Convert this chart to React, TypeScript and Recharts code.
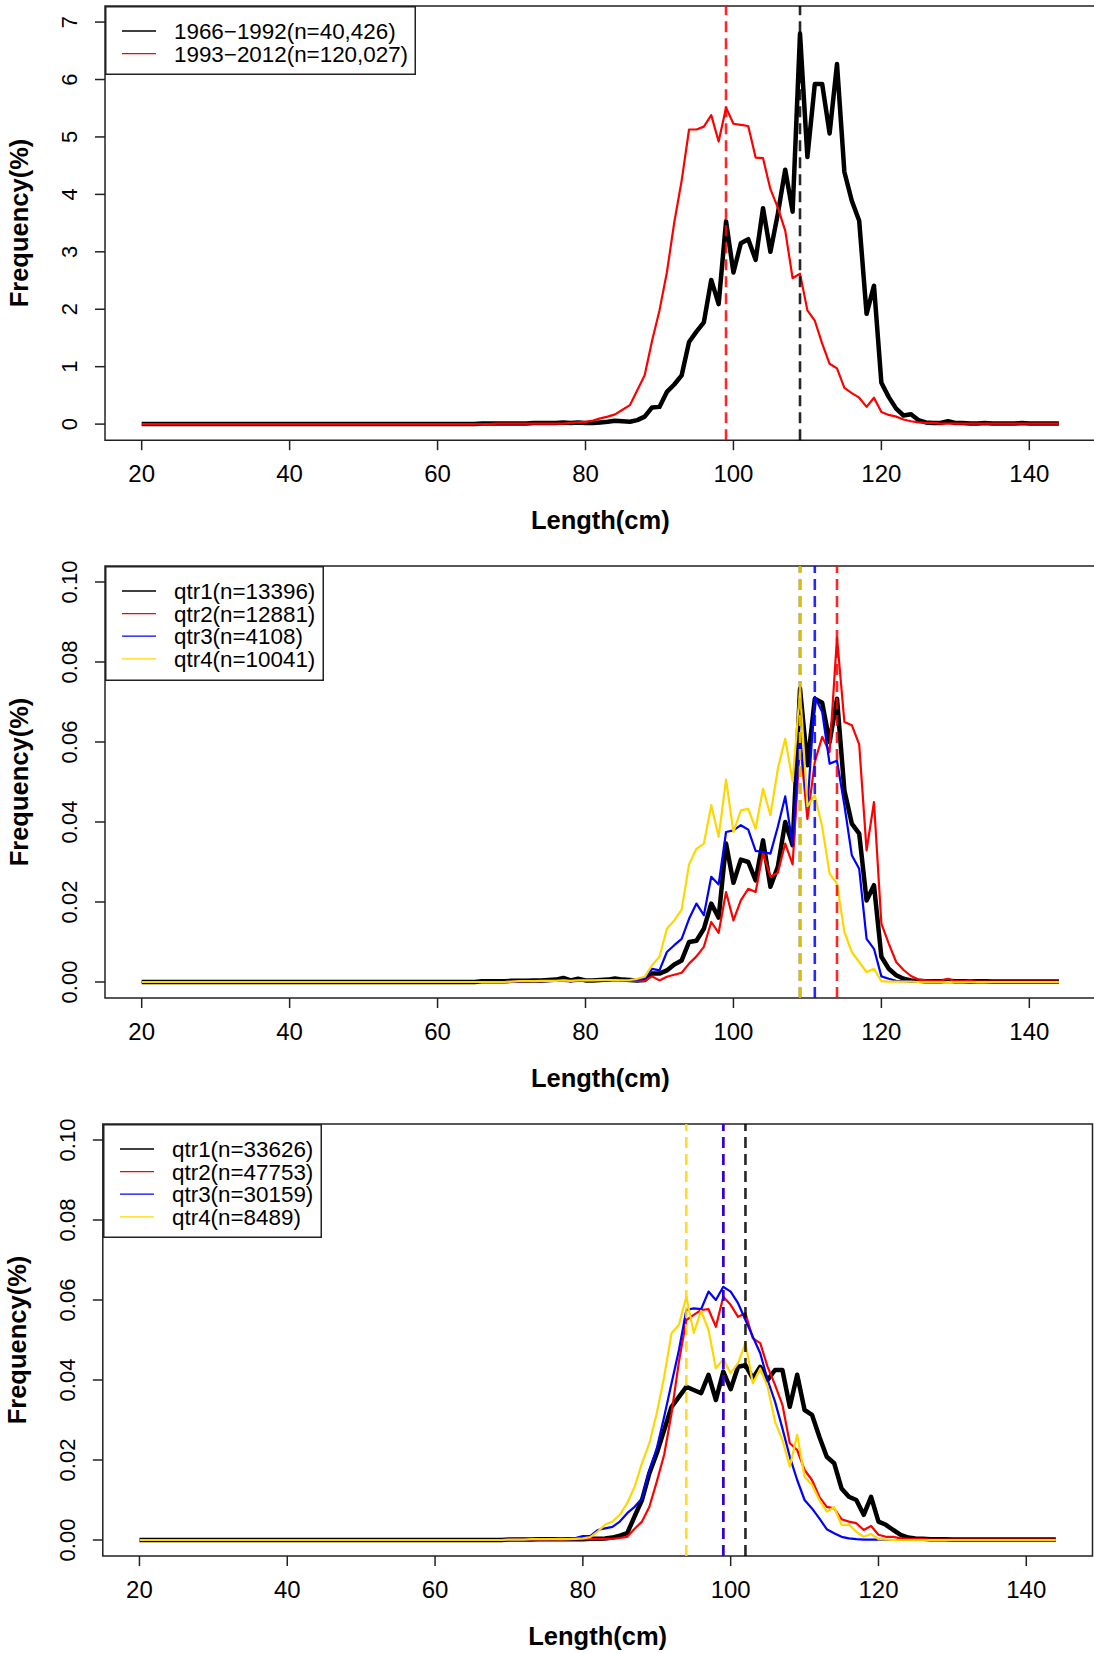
import {
  LineChart,
  Line,
  XAxis,
  YAxis,
  ReferenceLine,
  ReferenceArea,
  Legend,
} from "recharts";

// length bins (cm)
const lengths = [
  20, 21, 22, 23, 24, 25, 26, 27, 28, 29,
  30, 31, 32, 33, 34, 35, 36, 37, 38, 39,
  40, 41, 42, 43, 44, 45, 46, 47, 48, 49,
  50, 51, 52, 53, 54, 55, 56, 57, 58, 59,
  60, 61, 62, 63, 64, 65, 66, 67, 68, 69,
  70, 71, 72, 73, 74, 75, 76, 77, 78, 79,
  80, 81, 82, 83, 84, 85, 86, 87, 88, 89,
  90, 91, 92, 93, 94, 95, 96, 97, 98, 99,
  100, 101, 102, 103, 104, 105, 106, 107, 108, 109,
  110, 111, 112, 113, 114, 115, 116, 117, 118, 119,
  120, 121, 122, 123, 124, 125, 126, 127, 128, 129,
  130, 131, 132, 133, 134, 135, 136, 137, 138, 139,
  140, 141, 142, 143, 144,
];

const xTicks = [20, 40, 60, 80, 100, 120, 140];

// ---- panel 1: two periods ----
const periodNames = ["1966−1992(n=40,426)", "1993−2012(n=120,027)"];
const period1 = [
  0, 0, 0, 0, 0, 0, 0, 0, 0, 0,
  0, 0, 0, 0, 0, 0, 0, 0, 0, 0,
  0, 0, 0, 0, 0, 0, 0, 0, 0, 0,
  0, 0, 0, 0, 0, 0, 0, 0, 0, 0,
  0, 0, 0, 0, 0, 0, 0.01, 0.01, 0.01, 0.01,
  0.01, 0.01, 0.01, 0.02, 0.02, 0.02, 0.02, 0.03, 0.02, 0.03,
  0.02, 0.02, 0.03, 0.04, 0.06, 0.05, 0.04, 0.07, 0.13, 0.29,
  0.3, 0.56, 0.69, 0.85, 1.43, 1.61, 1.77, 2.51, 2.09, 3.53,
  2.64, 3.15, 3.22, 2.86, 3.76, 3.0, 3.66, 4.43, 3.7, 6.8,
  4.65, 5.92, 5.92, 5.06, 6.27, 4.39, 3.89, 3.54, 1.92, 2.41,
  0.72, 0.47, 0.27, 0.15, 0.17, 0.07, 0.03, 0.02, 0.02, 0.05,
  0.02, 0.02, 0.01, 0.01, 0.02, 0.01, 0.01, 0.01, 0.01, 0.02,
  0.01, 0.01, 0.01, 0.01, 0.01,
];
const period2 = [
  0, 0, 0, 0, 0, 0, 0, 0, 0, 0,
  0, 0, 0, 0, 0, 0, 0, 0, 0, 0,
  0, 0, 0, 0, 0, 0, 0, 0, 0, 0,
  0, 0, 0, 0, 0, 0, 0, 0, 0, 0,
  0, 0, 0, 0, 0, 0, 0, 0, 0.01, 0.01,
  0.01, 0.01, 0.01, 0.01, 0.01, 0.01, 0.01, 0.01, 0.02, 0.03,
  0.04, 0.06, 0.1, 0.13, 0.17, 0.25, 0.33, 0.59, 0.85, 1.45,
  1.98, 2.64, 3.51, 4.24, 5.13, 5.13, 5.18, 5.38, 4.92, 5.51,
  5.23, 5.21, 5.19, 4.64, 4.63, 4.09, 3.77, 3.37, 2.54, 2.62,
  1.98, 1.8, 1.4, 1.05, 0.97, 0.63, 0.54, 0.46, 0.3, 0.46,
  0.21, 0.16, 0.13, 0.08, 0.05, 0.03, 0.02, 0.02, 0.01, 0.01,
  0.01, 0.01, 0.01, 0.01, 0.01, 0.01, 0.01, 0.01, 0.01, 0.01,
  0.01, 0.01, 0.01, 0.01, 0.01,
];
const periodModes = [109, 99];
const periodTicks = [0, 1, 2, 3, 4, 5, 6, 7];

// ---- panel 2: quarters, period 1 ----
const q1Names = ["qtr1(n=13396)", "qtr2(n=12881)", "qtr3(n=4108)", "qtr4(n=10041)"];
const early1 = [
  0, 0, 0, 0, 0, 0, 0, 0, 0, 0,
  0, 0, 0, 0, 0, 0, 0, 0, 0, 0,
  0, 0, 0, 0, 0, 0, 0, 0, 0, 0,
  0, 0, 0, 0, 0, 0, 0, 0, 0, 0,
  0, 0, 0, 0, 0, 0, 0.0002, 0.0002, 0.0002, 0.0002,
  0.0003, 0.0003, 0.0003, 0.0004, 0.0004, 0.0005, 0.0006, 0.001, 0.0004, 0.0008,
  0.0004, 0.0004, 0.0005, 0.0006, 0.0009, 0.0006, 0.0005, 0.0004, 0.0005, 0.0021,
  0.0021, 0.0029, 0.0044, 0.0054, 0.01, 0.0103, 0.0133, 0.0196, 0.0161, 0.0346,
  0.0248, 0.0306, 0.03, 0.0254, 0.0354, 0.0238, 0.0288, 0.04, 0.0342, 0.0733,
  0.0542, 0.0708, 0.0698, 0.06, 0.0708, 0.0479, 0.0396, 0.0371, 0.0204, 0.0242,
  0.0063, 0.0033, 0.0017, 0.0008, 0.0004, 0.0003, 0.0002, 0.0002, 0.0002, 0.0003,
  0.0002, 0.0002, 0.0001, 0.0002, 0.0002, 0.0001, 0.0001, 0.0001, 0.0001, 0.0001,
  0.0001, 0.0001, 0.0001, 0.0001, 0.0001,
];
const early2 = [
  0, 0, 0, 0, 0, 0, 0, 0, 0, 0,
  0, 0, 0, 0, 0, 0, 0, 0, 0, 0,
  0, 0, 0, 0, 0, 0, 0, 0, 0, 0,
  0, 0, 0, 0, 0, 0, 0, 0, 0, 0,
  0, 0, 0, 0, 0, 0, 0, 0, 0, 0,
  0.0001, 0.0001, 0.0002, 0.0002, 0.0002, 0.0003, 0.0003, 0.0003, 0.0002, 0.0003,
  0.0003, 0.0003, 0.0003, 0.0004, 0.0004, 0.0004, 0.0003, 0.0003, 0.0003, 0.0014,
  0.0004, 0.0013, 0.0018, 0.0023, 0.0046, 0.0064, 0.0088, 0.015, 0.0123, 0.0225,
  0.0154, 0.0204, 0.0233, 0.0225, 0.0323, 0.0263, 0.0273, 0.0346, 0.0294, 0.06,
  0.0408, 0.055, 0.0613, 0.0575, 0.0861, 0.065, 0.0642, 0.0594, 0.0329, 0.045,
  0.0146, 0.0096, 0.005, 0.003, 0.0015, 0.0006, 0.0004, 0.0003, 0.0003, 0.0008,
  0.0002, 0.0002, 0.0002, 0.0001, 0.0001, 0.0001, 0.0001, 0.0001, 0.0001, 0.0001,
  0.0001, 0.0001, 0.0001, 0.0001, 0.0001,
];
const early3 = [
  0, 0, 0, 0, 0, 0, 0, 0, 0, 0,
  0, 0, 0, 0, 0, 0, 0, 0, 0, 0,
  0, 0, 0, 0, 0, 0, 0, 0, 0, 0,
  0, 0, 0, 0, 0, 0, 0, 0, 0, 0,
  0, 0, 0, 0, 0, 0, 0, 0, 0, 0,
  0.0001, 0.0001, 0.0002, 0.0002, 0.0002, 0.0002, 0.0003, 0.0003, 0.0002, 0.0003,
  0.0003, 0.0003, 0.0004, 0.0004, 0.0005, 0.0004, 0.0005, 0.0006, 0.0008, 0.0033,
  0.0029, 0.0075, 0.0092, 0.0108, 0.0158, 0.0196, 0.0167, 0.0263, 0.0244, 0.0375,
  0.0379, 0.0392, 0.0381, 0.0328, 0.0325, 0.0321, 0.0388, 0.0464, 0.0342, 0.0617,
  0.0438, 0.0713, 0.0675, 0.0546, 0.0553, 0.0442, 0.0317, 0.0283, 0.0108, 0.0083,
  0.0014, 0.0008, 0.0003, 0.0002, 0.0001, 0, 0, 0, 0, 0,
  0, 0, 0, 0, 0, 0, 0, 0, 0, 0,
  0, 0, 0, 0, 0,
];
const early4 = [
  0, 0, 0, 0, 0, 0, 0, 0, 0, 0,
  0, 0, 0, 0, 0, 0, 0, 0, 0, 0,
  0, 0, 0, 0, 0, 0, 0, 0, 0, 0,
  0, 0, 0, 0, 0, 0, 0, 0, 0, 0,
  0, 0, 0, 0, 0, 0, 0, 0, 0, 0,
  0.0001, 0.0002, 0.0002, 0.0002, 0.0003, 0.0003, 0.0003, 0.0004, 0.0003, 0.0004,
  0.0004, 0.0004, 0.0005, 0.0005, 0.0005, 0.0004, 0.0005, 0.0008, 0.0013, 0.0042,
  0.0063, 0.0133, 0.0154, 0.0181, 0.0294, 0.0333, 0.0346, 0.0442, 0.0363, 0.0506,
  0.0375, 0.0429, 0.0433, 0.0383, 0.0483, 0.0417, 0.0533, 0.0608, 0.0502, 0.073,
  0.0439, 0.0467, 0.0388, 0.0271, 0.0246, 0.0125, 0.0075, 0.005, 0.0025, 0.0033,
  0.0002, 0.0001, 0.0001, 0.0001, 0.0001, 0, 0, 0, 0, 0,
  0, 0, 0, 0, 0, 0, 0, 0, 0, 0,
  0, 0, 0, 0, 0,
];
const earlyModes = [109, 114, 111, 109];

// ---- panel 3: quarters, period 2 ----
const q2Names = ["qtr1(n=33626)", "qtr2(n=47753)", "qtr3(n=30159)", "qtr4(n=8489)"];
const late1 = [
  0, 0, 0, 0, 0, 0, 0, 0, 0, 0,
  0, 0, 0, 0, 0, 0, 0, 0, 0, 0,
  0, 0, 0, 0, 0, 0, 0, 0, 0, 0,
  0, 0, 0, 0, 0, 0, 0, 0, 0, 0,
  0, 0, 0, 0, 0, 0, 0, 0, 0, 0,
  0.0001, 0.0001, 0.0001, 0.0001, 0.0002, 0.0002, 0.0002, 0.0002, 0.0002, 0.0002,
  0.0002, 0.0003, 0.0003, 0.0004, 0.0006, 0.0011, 0.0017, 0.0059, 0.01, 0.0167,
  0.0217, 0.0275, 0.0333, 0.0358, 0.0383, 0.0375, 0.0367, 0.0413, 0.035, 0.0421,
  0.0377, 0.0433, 0.0437, 0.0404, 0.0433, 0.04, 0.0425, 0.0425, 0.0333, 0.0413,
  0.0325, 0.0313, 0.0258, 0.0208, 0.0192, 0.0129, 0.0108, 0.01, 0.0063, 0.0108,
  0.0046, 0.0038, 0.0025, 0.0013, 0.0006, 0.0004, 0.0003, 0.0002, 0.0002, 0.0002,
  0.0001, 0.0001, 0.0001, 0.0001, 0.0001, 0.0001, 0.0001, 0.0001, 0.0001, 0.0001,
  0.0001, 0.0001, 0.0001, 0.0001, 0.0001,
];
const late2 = [
  0, 0, 0, 0, 0, 0, 0, 0, 0, 0,
  0, 0, 0, 0, 0, 0, 0, 0, 0, 0,
  0, 0, 0, 0, 0, 0, 0, 0, 0, 0,
  0, 0, 0, 0, 0, 0, 0, 0, 0, 0,
  0, 0, 0, 0, 0, 0, 0, 0, 0, 0,
  0.0001, 0.0001, 0.0001, 0.0001, 0.0001, 0.0001, 0.0002, 0.0001, 0.0002, 0.0002,
  0.0002, 0.0002, 0.0002, 0.0003, 0.0003, 0.0005, 0.0008, 0.0028, 0.0046, 0.0083,
  0.0146, 0.0213, 0.0317, 0.0446, 0.055, 0.0563, 0.0575, 0.0577, 0.0533, 0.0608,
  0.0588, 0.0558, 0.0567, 0.0504, 0.0492, 0.0433, 0.0388, 0.0338, 0.0242, 0.0225,
  0.0175, 0.015, 0.0108, 0.0083, 0.0079, 0.0052, 0.0046, 0.0042, 0.0025, 0.0035,
  0.0013, 0.0008, 0.0008, 0.0004, 0.0003, 0.0002, 0.0002, 0.0001, 0.0001, 0.0001,
  0.0001, 0.0001, 0.0001, 0.0001, 0.0001, 0.0001, 0.0001, 0.0001, 0.0001, 0.0001,
  0.0001, 0.0001, 0.0001, 0.0001, 0.0001,
];
const late3 = [
  0, 0, 0, 0, 0, 0, 0, 0, 0, 0,
  0, 0, 0, 0, 0, 0, 0, 0, 0, 0,
  0, 0, 0, 0, 0, 0, 0, 0, 0, 0,
  0, 0, 0, 0, 0, 0, 0, 0, 0, 0,
  0, 0, 0, 0, 0, 0, 0, 0, 0, 0,
  0.0001, 0.0001, 0.0001, 0.0002, 0.0002, 0.0002, 0.0003, 0.0003, 0.0005, 0.0005,
  0.001, 0.001, 0.0025, 0.0029, 0.0033, 0.0046, 0.0067, 0.0083, 0.0104, 0.0175,
  0.0229, 0.0308, 0.0392, 0.0475, 0.0575, 0.0579, 0.0577, 0.0621, 0.06, 0.0633,
  0.0621, 0.0592, 0.055, 0.0508, 0.0467, 0.04, 0.0346, 0.0279, 0.0208, 0.015,
  0.01, 0.0079, 0.0054, 0.0027, 0.0017, 0.0008, 0.0004, 0.0002, 0.0001, 0.0001,
  0.0001, 0, 0, 0, 0, 0, 0, 0, 0, 0,
  0, 0, 0, 0, 0, 0, 0, 0, 0, 0,
  0, 0, 0, 0, 0,
];
const late4 = [
  0, 0, 0, 0, 0, 0, 0, 0, 0, 0,
  0, 0, 0, 0, 0, 0, 0, 0, 0, 0,
  0, 0, 0, 0, 0, 0, 0, 0, 0, 0,
  0, 0, 0, 0, 0, 0, 0, 0, 0, 0,
  0, 0, 0, 0, 0, 0, 0, 0, 0, 0,
  0.0001, 0.0001, 0.0001, 0.0002, 0.0002, 0.0002, 0.0002, 0.0003, 0.0002, 0.0003,
  0.0004, 0.0007, 0.0021, 0.0038, 0.0046, 0.0063, 0.0092, 0.0133, 0.0192, 0.0242,
  0.0317, 0.0408, 0.0517, 0.0538, 0.0608, 0.0518, 0.0573, 0.0525, 0.0429, 0.0452,
  0.0417, 0.0442, 0.0492, 0.0392, 0.0429, 0.0383, 0.0296, 0.025, 0.0183, 0.0263,
  0.0158, 0.0138, 0.01, 0.0071, 0.0082, 0.0038, 0.0038, 0.0021, 0.0008, 0.0015,
  0.0002, 0.0001, 0, 0, 0, 0, 0, 0, 0, 0,
  0, 0, 0, 0, 0, 0, 0, 0, 0, 0,
  0, 0, 0, 0, 0,
];
const lateModes = [102, 99, 99, 94];
const qtrTicks = [0, 0.02, 0.04, 0.06, 0.08, 0.1];

const FONT = '"Liberation Sans", Arial, Helvetica, sans-serif';
const xDomain = [15.04, 148.96];
const qColors = ["#000000", "#ff0000", "#0000ff", "#ffd700"];

const panels = [
  {
    names: periodNames,
    series: [period1, period2],
    modes: periodModes,
    colors: ["#000000", "#ff0000"],
    yDomain: [-0.28, 7.28],
    yTicks: periodTicks,
    fmt: (v: number) => String(v),
    plotTop: 5.6,
    plotH: 434.2,
    plotLeft: 105,
    plotRight: 1095.6,
    legendW: 311,
    legendH: 69,
  },
  {
    names: q1Names,
    series: [early1, early2, early3, early4],
    modes: earlyModes,
    colors: qColors,
    yDomain: [-0.004, 0.104],
    yTicks: qtrTicks,
    fmt: (v: number) => v.toFixed(2),
    plotTop: 565.7,
    plotH: 432,
    plotLeft: 105,
    plotRight: 1095.6,
    legendW: 219,
    legendH: 115,
  },
  {
    names: q2Names,
    series: [late1, late2, late3, late4],
    modes: lateModes,
    colors: qColors,
    yDomain: [-0.004, 0.104],
    yTicks: qtrTicks,
    fmt: (v: number) => v.toFixed(2),
    plotTop: 1124,
    plotH: 432,
    plotLeft: 102.8,
    plotRight: 1092.5,
    legendW: 219,
    legendH: 114,
  },
];

const LegendBox = ({ payload, w, h }: any) => (
  <svg width={w} height={h} style={{ display: "block" }}>
    <rect x={0.75} y={0.75} width={w - 1.5} height={h - 1.5} fill="#fff" stroke="#222" strokeWidth={1.5} />
    {(payload || []).map((p: any, i: number) => {
      const cy = 25 + i * 22.6;
      return (
        <g key={i}>
          <line x1={17} x2={51} y1={cy} y2={cy} stroke={p.color} strokeWidth={1.3} />
          <text x={69} y={cy} dy={8} fontSize={22.4} fontFamily={FONT} fill="#000">
            {p.value}
          </text>
        </g>
      );
    })}
  </svg>
);

const Panel = ({ cfg }: any) => {
  const W = 1100;
  const H = 10 + cfg.plotH + 110;
  const data = lengths.map((len, i) => {
    const row: any = { len };
    cfg.series.forEach((arr: number[], k: number) => {
      row["s" + k] = arr[i];
    });
    return row;
  });

  return (
    <div style={{ position: "absolute", left: 0, top: cfg.plotTop - 10, width: W, height: H }}>
      <LineChart
        width={W}
        height={H}
        data={data}
        margin={{ top: 10, right: W - cfg.plotRight, bottom: 50, left: 0 }}
      >
        <XAxis
          dataKey="len"
          type="number"
          domain={xDomain}
          ticks={xTicks}
          interval={0}
          allowDataOverflow
          axisLine={false}
          tickLine={{ stroke: "#222", strokeWidth: 1.5 }}
          tickSize={10}
          tickMargin={14}
          height={60}
          tick={(p: any) => (
            <text x={p.x} y={p.y} dy={18.1} textAnchor="middle" fontSize={24} fontFamily={FONT} fill="#000">
              {p.payload.value}
            </text>
          )}
        />
        <YAxis
          type="number"
          domain={cfg.yDomain}
          ticks={cfg.yTicks}
          interval={0}
          allowDataOverflow
          width={cfg.plotLeft}
          axisLine={false}
          tickLine={{ stroke: "#222", strokeWidth: 1.5 }}
          tickSize={10}
          tickMargin={18}
          tick={(p: any) => (
            <text
              x={p.x}
              y={p.y}
              transform={`rotate(-90 ${p.x} ${p.y})`}
              textAnchor="middle"
              fontSize={22}
              fontFamily={FONT}
              fill="#000"
            >
              {cfg.fmt(p.payload.value)}
            </text>
          )}
        />
        <ReferenceArea
          x1={xDomain[0]}
          x2={xDomain[1]}
          y1={cfg.yDomain[0]}
          y2={cfg.yDomain[1]}
          fill="none"
          stroke="#222"
          strokeWidth={1.5}
        />
        {cfg.series.map((_: any, k: number) => (
          <Line
            key={k}
            type="linear"
            dataKey={"s" + k}
            name={cfg.names[k]}
            stroke={cfg.colors[k]}
            strokeWidth={k === 0 ? 4.5 : 2.2}
            strokeLinejoin="round"
            dot={false}
            activeDot={false}
            isAnimationActive={false}
          />
        ))}
        {cfg.modes.map((m: number, k: number) => (
          <ReferenceLine
            key={"m" + k}
            x={m}
            stroke={cfg.colors[k]}
            strokeWidth={2.6}
            strokeDasharray="11 6"
            strokeOpacity={0.85}
          />
        ))}
        <Legend
          layout="vertical"
          align="center"
          verticalAlign="middle"
          wrapperStyle={{ left: cfg.plotLeft, top: 10, width: cfg.legendW, height: cfg.legendH }}
          content={(props: any) => <LegendBox payload={props.payload} w={cfg.legendW} h={cfg.legendH} />}
        />
      </LineChart>
      <div
        style={{
          position: "absolute",
          left: cfg.plotLeft - 85,
          top: 10 + cfg.plotH / 2,
          transform: "translate(-50%, -50%) rotate(-90deg)",
          fontSize: 25.5,
          fontWeight: "bold",
          lineHeight: 1,
          whiteSpace: "nowrap",
          fontFamily: FONT,
        }}
      >
        Frequency(%)
      </div>
      <div
        style={{
          position: "absolute",
          left: (cfg.plotLeft + cfg.plotRight) / 2,
          top: 10 + cfg.plotH + 81,
          transform: "translate(-50%, -50%)",
          fontSize: 25.5,
          fontWeight: "bold",
          lineHeight: 1,
          whiteSpace: "nowrap",
          fontFamily: FONT,
        }}
      >
        Length(cm)
      </div>
    </div>
  );
};

const App = () => {
  return (
    <div
      style={{
        position: "absolute",
        left: 0,
        top: 0,
        width: 1094,
        height: 1653,
        overflow: "hidden",
        background: "#fff",
        fontFamily: FONT,
      }}
    >
      {panels.map((cfg, i) => (
        <Panel key={i} cfg={cfg} />
      ))}
    </div>
  );
};

export default App;
